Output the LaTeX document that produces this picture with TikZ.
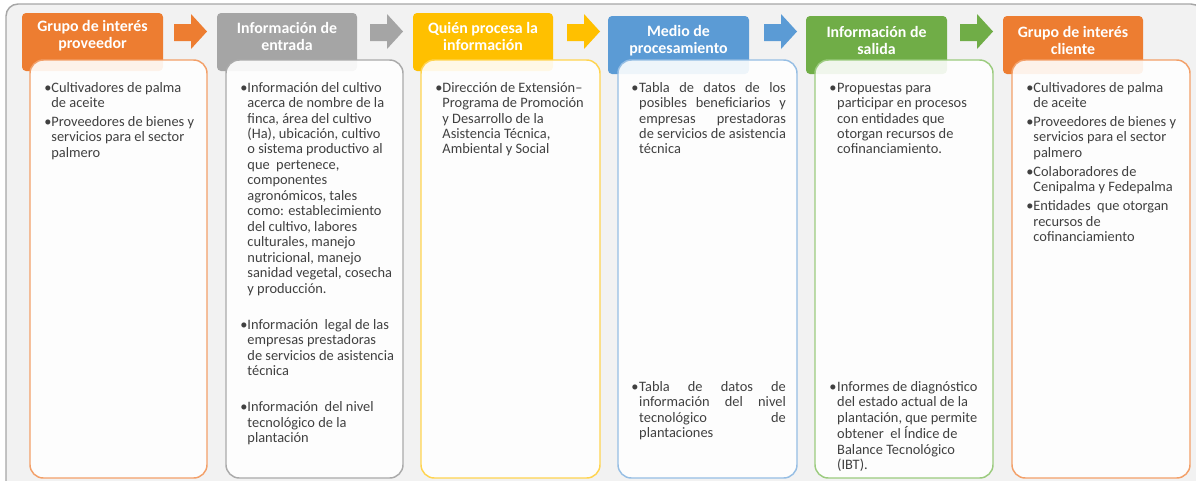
\documentclass[tikz,border=0pt]{standalone}
\usepackage{fontspec}
\setmainfont{Carlito}
\newcommand\jline[1]{\makebox[110pt][s]{#1}}

\begin{document}
\begin{tikzpicture}[x=0.75pt,y=0.75pt,yscale=-1,xscale=1,
	headbox/.style={draw=none, rounded corners=3pt},
	bodybox/.style={fill=white, fill opacity=0.9, line width=1.1, rounded corners=10pt},
	headtext/.style={text=white, align=center, inner sep=0.75pt, font=\fontsize{11.9}{12.75}\selectfont\bfseries},
	bodytext/.style={anchor=north west, inner sep=0.75pt, text={rgb, 255:red, 64; green, 64; blue, 64}, font=\fontsize{10.8}{11.6}\selectfont}
	]
\useasboundingbox (0,0) rectangle (1196,480);
\clip (0,0) rectangle (1196,480);
%frame
\draw [draw={rgb, 255:red, 166; green, 166; blue, 166}, fill={rgb, 255:red, 242; green, 242; blue, 242}, line width=1.1, rounded corners=9pt] (6,4) rectangle (1203,495);

%headers
\draw [headbox, fill={rgb, 255:red, 237; green, 125; blue, 49}] (22,13) rectangle (163,71);
\draw [headbox, fill={rgb, 255:red, 165; green, 165; blue, 165}] (217,13) rectangle (357,71);
\draw [headbox, fill={rgb, 255:red, 255; green, 192; blue, 0}] (413,13) rectangle (553,71);
\draw [headbox, fill={rgb, 255:red, 91; green, 155; blue, 213}] (608,16) rectangle (749,74);
\draw [headbox, fill={rgb, 255:red, 112; green, 173; blue, 71}] (806,16) rectangle (947,74);
\draw [headbox, fill={rgb, 255:red, 237; green, 125; blue, 49}] (1003,16) rectangle (1143,74);

%block arrows
\draw [draw=none, fill={rgb, 255:red, 237; green, 125; blue, 49}] (174,24) -- (191,24) -- (191,14) -- (207,31.5) -- (191,49) -- (191,41) -- (174,41) -- cycle;
\draw [draw=none, fill={rgb, 255:red, 165; green, 165; blue, 165}] (370,24) -- (387,24) -- (387,14) -- (403,31.5) -- (387,49) -- (387,41) -- (370,41) -- cycle;
\draw [draw=none, fill={rgb, 255:red, 255; green, 192; blue, 0}] (567,24) -- (584,24) -- (584,14) -- (600,31.5) -- (584,49) -- (584,41) -- (567,41) -- cycle;
\draw [draw=none, fill={rgb, 255:red, 91; green, 155; blue, 213}] (764,24) -- (781,24) -- (781,14) -- (797,31.5) -- (781,49) -- (781,41) -- (764,41) -- cycle;
\draw [draw=none, fill={rgb, 255:red, 112; green, 173; blue, 71}] (960,24) -- (977,24) -- (977,14) -- (993,31.5) -- (977,49) -- (977,41) -- (960,41) -- cycle;

%bodies
\draw [bodybox, draw={rgb, 255:red, 243; green, 160; blue, 105}] (30,60) rectangle (207,478);
\draw [bodybox, draw={rgb, 255:red, 170; green, 170; blue, 170}] (226,60) rectangle (403,478);
\draw [bodybox, draw={rgb, 255:red, 255; green, 212; blue, 80}] (421,60) rectangle (600,478);
\draw [bodybox, draw={rgb, 255:red, 150; green, 190; blue, 228}] (618,60) rectangle (797,478);
\draw [bodybox, draw={rgb, 255:red, 155; green, 203; blue, 126}] (815,60) rectangle (993,478);
\draw [bodybox, draw={rgb, 255:red, 243; green, 160; blue, 105}] (1012,60) rectangle (1190,478);

%header texts
\draw (92.5,36) node [headtext] (h1) {Grupo de interés\\proveedor};
\draw (287,36) node [headtext] (h2) {Información de\\entrada};
\draw (483,36) node [headtext] (h3) {Quién procesa la\\información};
\draw (678.5,40.5) node [headtext] (h4) {Medio de\\procesamiento};
\draw (876.5,40.5) node [headtext] (h5) {Información de\\salida};
\draw (1073,40.5) node [headtext] (h6) {Grupo de interés\\cliente};

%body texts
\draw (43,80) node [bodytext] (b1) {\begin{tabular}{@{}l@{}l@{}}
\textbullet & Cultivadores de palma\\ & de aceite\\[2.6pt]
\textbullet & Proveedores de bienes y\\ & servicios para el sector\\ & palmero
\end{tabular}};
\draw (239,80) node [bodytext] (b2) {\begin{tabular}{@{}l@{}l@{}}
\textbullet & Información del cultivo\\ & acerca de nombre de la\\ & finca, área del cultivo\\ & (Ha), ubicación, cultivo\\ & o sistema productivo al\\ & que\ \ pertenece,\\ & componentes\\ & agronómicos, tales\\ & como: establecimiento\\ & del cultivo, labores\\ & culturales, manejo\\ & nutricional, manejo\\ & sanidad vegetal, cosecha\\ & y producción.\\[15.4pt]
\textbullet & Información\ \ legal de las\\ & empresas prestadoras\\ & de servicios de asistencia\\ & técnica\\[15.4pt]
\textbullet & Información\ \ del nivel\\ & tecnológico de la\\ & plantación
\end{tabular}};
\draw (434,80) node [bodytext] (b3) {\begin{tabular}{@{}l@{}l@{}}
\textbullet & Dirección de Extensión--\\ & Programa de Promoción\\ & y Desarrollo de la\\ & Asistencia Técnica,\\ & Ambiental y Social
\end{tabular}};
\draw (630,80) node [bodytext] (b4a) {\begin{tabular}{@{}l@{\hspace{0.6pt}}l@{}}
\textbullet & \jline{Tabla de datos de los}\\ & \jline{posibles beneficiarios y}\\ & \jline{empresas prestadoras}\\ & \jline{de servicios de asistencia}\\ & técnica
\end{tabular}};
\draw (630,379) node [bodytext] (b4b) {\begin{tabular}{@{}l@{\hspace{0.6pt}}l@{}}
\textbullet & \jline{Tabla de datos de}\\ & \jline{información del nivel}\\ & \jline{tecnológico de}\\ & plantaciones
\end{tabular}};
\draw (828,80) node [bodytext] (b5a) {\begin{tabular}{@{}l@{\hspace{0.6pt}}l@{}}
\textbullet & Propuestas para\\ & participar en procesos\\ & con entidades que\\ & otorgan recursos de\\ & cofinanciamiento.
\end{tabular}};
\draw (828,379) node [bodytext] (b5b) {\begin{tabular}{@{}l@{\hspace{0.6pt}}l@{}}
\textbullet & Informes de diagnóstico\\ & del estado actual de la\\ & plantación, que permite\\ & obtener\ \ el Índice de\\ & Balance Tecnológico\\ & (IBT).
\end{tabular}};
\draw (1025,80) node [bodytext] (b6) {\begin{tabular}{@{}l@{}l@{}}
\textbullet & Cultivadores de palma\\ & de aceite\\[2.6pt]
\textbullet & Proveedores de bienes y\\ & servicios para el sector\\ & palmero\\[2.6pt]
\textbullet & Colaboradores de\\ & Cenipalma y Fedepalma\\[2.6pt]
\textbullet & Entidades\ \ que otorgan\\ & recursos de\\ & cofinanciamiento
\end{tabular}};
\end{tikzpicture}
\end{document}
